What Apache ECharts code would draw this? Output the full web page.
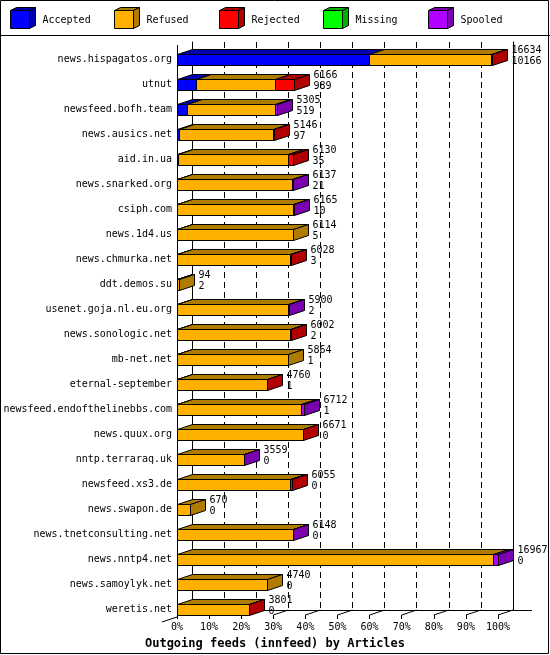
<!DOCTYPE html>
<html>
<head>
<meta charset="utf-8">
<script src="https://cdn.jsdelivr.net/npm/echarts@6/dist/echarts.min.js"></script>
<style>
  html, body { margin: 0; padding: 0; background: #fff; }
  #chart { width: 550px; height: 655px; }
</style>
</head>
<body>
<div id="chart"></div>
<script>
// feeds, top to bottom
const categories = [
  'news.hispagatos.org', 'utnut', 'newsfeed.bofh.team', 'news.ausics.net',
  'aid.in.ua', 'news.snarked.org', 'csiph.com', 'news.1d4.us',
  'news.chmurka.net', 'ddt.demos.su', 'usenet.goja.nl.eu.org', 'news.sonologic.net',
  'mb-net.net', 'eternal-september', 'newsfeed.endofthelinebbs.com', 'news.quux.org',
  'nntp.terraraq.uk', 'newsfeed.xs3.de', 'news.swapon.de', 'news.tnetconsulting.net',
  'news.nntp4.net', 'news.samoylyk.net', 'weretis.net'
]
const totals = [16634, 6166, 5305, 5146, 6130, 6137, 6165, 6114, 6028, 94, 5900, 6002,
  5864, 4760, 6712, 6671, 3559, 6055, 670, 6148, 16967, 4740, 3801]
const accepted = [10166, 989, 519, 97, 35, 21, 10, 5, 3, 2, 2, 2,
  1, 1, 1, 0, 0, 0, 0, 0, 0, 0, 0]
const refused = [6448, 4177, 4636, 4999, 5815, 6066, 6125, 6109, 5965, 92, 5858, 5950,
  5863, 4739, 6561, 6651, 3529, 5995, 670, 6108, 16717, 4740, 3781]
const rejected = [20, 1000, 0, 50, 280, 0, 0, 0, 60, 0, 0, 50,
  0, 20, 0, 20, 0, 60, 0, 0, 0, 0, 20]
const missing = [0, 0, 0, 0, 0, 0, 0, 0, 0, 0, 0, 0,
  0, 0, 0, 0, 0, 0, 0, 0, 0, 0, 0]
const spooled = [0, 0, 150, 0, 0, 50, 30, 0, 0, 0, 40, 0,
  0, 0, 150, 0, 30, 0, 0, 40, 250, 0, 0]
const seriesNames = ['Accepted', 'Refused', 'Rejected', 'Missing', 'Spooled']
const tickLabels = ['0%', '10%', '20%', '30%', '40%', '50%', '60%', '70%', '80%', '90%', '100%']

const frontColors = ['#0000ff', '#ffb000', '#ff0000', '#00ff00', '#b000ff']
const darkColors = ['#0000b0', '#b07c00', '#b00000', '#00b000', '#7a00b0']
const FONT = '"DejaVu Sans Mono", "Liberation Mono", monospace'

const MAX = Math.max.apply(null, totals)
const LEFT = 177
const PLOT_W = 321
const TOP = 47
const BOTTOM = 33
const DX = 15
const DY = 5
const BAR_H = 11
const FLOOR_Y = 615

const snap = v => Math.round(v) + 0.5

function renderFeed(params, api) {
  const i = api.value(1)
  const parts = [accepted[i], refused[i], rejected[i], missing[i], spooled[i]]
  const base = api.coord([0, i])
  const yTop = snap(base[1] - BAR_H / 2)
  const yBot = yTop + BAR_H
  const children = []
  let sum = 0
  let xStart = snap(base[0])
  let last = 1
  parts.forEach((v, k) => {
    if (!v) return
    sum += v
    const xEnd = snap(api.coord([sum, i])[0])
    children.push({
      type: 'polygon',
      shape: { points: [[xStart, yTop], [xEnd, yTop], [xEnd + DX, yTop - DY], [xStart + DX, yTop - DY]] },
      style: { fill: darkColors[k], stroke: '#000', lineWidth: 1 }
    })
    children.push({
      type: 'rect',
      shape: { x: xStart, y: yTop, width: xEnd - xStart, height: BAR_H },
      style: { fill: frontColors[k], stroke: '#000', lineWidth: 1 }
    })
    xStart = xEnd
    last = k
  })
  children.push({
    type: 'polygon',
    shape: { points: [[xStart, yTop], [xStart + DX, yTop - DY], [xStart + DX, yBot - DY], [xStart, yBot]] },
    style: { fill: darkColors[last], stroke: '#000', lineWidth: 1 }
  })
  children.push({
    type: 'text',
    x: xStart + 19,
    y: base[1] - 9.5,
    style: { text: String(totals[i]), font: '10px ' + FONT, fill: '#000', verticalAlign: 'middle' }
  })
  children.push({
    type: 'text',
    x: xStart + 19,
    y: base[1] + 2,
    style: { text: String(accepted[i]), font: '10px ' + FONT, fill: '#000', verticalAlign: 'middle' }
  })
  return { type: 'group', children }
}

// legend cubes
const legendItems = seriesNames.map((name, k) => {
  const x = Math.round(10 + k * 104.4) + 0.5
  return {
    type: 'group',
    x: x,
    y: 0.5,
    children: [
      { type: 'polygon', shape: { points: [[0, 10], [19, 10], [25, 7], [6, 7]] }, style: { fill: darkColors[k], stroke: '#000' } },
      { type: 'polygon', shape: { points: [[19, 10], [25, 7], [25, 25], [19, 28]] }, style: { fill: darkColors[k], stroke: '#000' } },
      { type: 'rect', shape: { x: 0, y: 10, width: 19, height: 18 }, style: { fill: frontColors[k], stroke: '#000' } },
      { type: 'text', x: 32, y: 19.5, style: { text: name, font: '10px ' + FONT, fill: '#000', verticalAlign: 'middle' } }
    ]
  }
})

// 3d floor lines
const floorLines = [
  [[snap(LEFT), 45], [snap(LEFT), FLOOR_Y + 2]],
  [[LEFT - DX, FLOOR_Y + 7], [LEFT, FLOOR_Y + 2]],
  [[LEFT + DX, FLOOR_Y - DY + 0.5], [LEFT + PLOT_W + DX + 19, FLOOR_Y - DY + 0.5]]
]
tickLabels.forEach((t, k) => {
  const x = LEFT + k * PLOT_W / 10
  floorLines.push([[x, FLOOR_Y], [x + DX, FLOOR_Y - DY]])
})

const chart = echarts.init(document.getElementById('chart'), null, { renderer: 'canvas' })

chart.setOption({
  backgroundColor: '#fff',
  animation: false,
  title: {
    text: 'Outgoing feeds (innfeed) by Articles',
    left: 'center',
    top: 633,
    textStyle: { fontFamily: FONT, fontSize: 12, fontWeight: 'bold', color: '#000' }
  },
  grid: [
    { left: LEFT, width: PLOT_W, top: TOP, bottom: BOTTOM },
    { left: LEFT + DX, width: PLOT_W, top: 42, bottom: 655 - (FLOOR_Y - DY) }
  ],
  xAxis: [
    {
      type: 'value',
      gridIndex: 0,
      min: 0,
      max: MAX,
      interval: MAX / 10,
      offset: -(655 - BOTTOM - FLOOR_Y),
      axisLine: { show: false },
      axisTick: { show: true, length: 4, lineStyle: { color: '#000' } },
      splitLine: { show: false },
      axisLabel: {
        color: '#000',
        fontFamily: FONT,
        fontSize: 10,
        margin: 7,
        formatter: v => tickLabels[Math.round(v / MAX * 10)]
      }
    },
    {
      type: 'value',
      gridIndex: 1,
      min: 0,
      max: MAX,
      interval: MAX / 10,
      axisLine: { show: false },
      axisTick: { show: false },
      axisLabel: { show: false },
      splitLine: {
        show: true,
        showMinLine: false,
        showMaxLine: false,
        lineStyle: { color: '#000', type: [6, 4], width: 1 }
      }
    }
  ],
  yAxis: [
    {
      type: 'category',
      gridIndex: 0,
      data: categories,
      inverse: true,
      axisLine: { show: false },
      axisTick: { show: false },
      axisLabel: { color: '#000', fontFamily: FONT, fontSize: 10, margin: 5 }
    },
    {
      type: 'category',
      gridIndex: 1,
      data: categories,
      inverse: true,
      axisLine: { show: true, lineStyle: { color: '#000' } },
      axisTick: { show: false },
      axisLabel: { show: false }
    },
    {
      type: 'category',
      gridIndex: 1,
      position: 'right',
      data: categories,
      inverse: true,
      axisLine: { show: true, lineStyle: { color: '#000' } },
      axisTick: { show: false },
      axisLabel: { show: false }
    }
  ],
  graphic: [
    { type: 'rect', shape: { x: 0.5, y: 0.5, width: 548, height: 653 }, style: { fill: null, stroke: '#000' }, z: 0 },
    { type: 'line', shape: { x1: 0, y1: 35.5, x2: 550, y2: 35.5 }, style: { stroke: '#000' }, z: 0 },
    ...floorLines.map(l => ({
      type: 'line',
      shape: { x1: l[0][0], y1: l[0][1], x2: l[1][0], y2: l[1][1] },
      style: { stroke: '#000', lineWidth: 1 },
      z: 0
    })),
    ...legendItems
  ],
  series: [
    {
      name: 'feeds',
      type: 'custom',
      xAxisIndex: 0,
      yAxisIndex: 0,
      renderItem: renderFeed,
      encode: { x: 0, y: 1 },
      data: categories.map((c, i) => [totals[i], i]),
      z: 5
    }
  ]
})
</script>
</body>
</html>
